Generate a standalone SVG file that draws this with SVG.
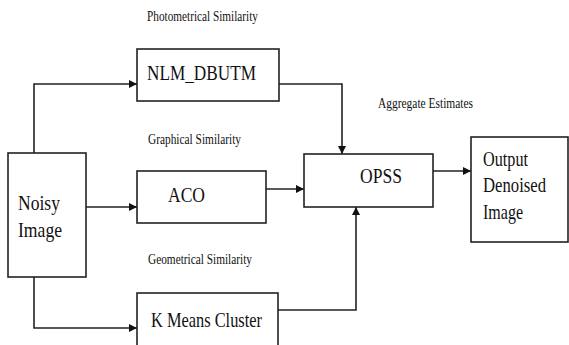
<svg xmlns="http://www.w3.org/2000/svg" width="569" height="345" viewBox="0 0 569 345">
<defs>
<style>
.box{fill:#fff;stroke:#222;stroke-width:1.6}
.con{fill:none;stroke:#222;stroke-width:1.6}
.big{font-family:'Liberation Serif','Times New Roman','DejaVu Serif',serif;font-size:22px;fill:#111}
.lab{font-family:'Liberation Serif','Times New Roman','DejaVu Serif',serif;font-size:14px;fill:#111}
</style>
<marker id="ah" viewBox="0 0 10 10" refX="10" refY="5" markerWidth="8" markerHeight="8" markerUnits="userSpaceOnUse" orient="auto">
<path d="M0,0 L10,5 L0,10 z" fill="#111"/>
</marker>
</defs>
<rect width="569" height="345" fill="#fff"/>
<g id="labels">
<text class="lab" x="147" y="21" textLength="111" lengthAdjust="spacingAndGlyphs">Photometrical Similarity</text>
<text class="lab" x="148" y="144" textLength="93" lengthAdjust="spacingAndGlyphs">Graphical Similarity</text>
<text class="lab" x="148" y="264" textLength="104" lengthAdjust="spacingAndGlyphs">Geometrical Similarity</text>
<text class="lab" x="378" y="108" textLength="95" lengthAdjust="spacingAndGlyphs">Aggregate Estimates</text>
</g>
<g id="connectors">
<path class="con" d="M34,153 V84 H137" marker-end="url(#ah)"/>
<path class="con" d="M86,207 H137" marker-end="url(#ah)"/>
<path class="con" d="M34,277 V328 H137" marker-end="url(#ah)"/>
<path class="con" d="M279,84 H342 V154" marker-end="url(#ah)"/>
<path class="con" d="M266,189 H304" marker-end="url(#ah)"/>
<path class="con" d="M278,310 H356 V207" marker-end="url(#ah)"/>
<path class="con" d="M433,171 H471" marker-end="url(#ah)"/>
</g>
<g id="noisy">
<rect class="box" x="8" y="153" width="78" height="124"/>
<text class="big" x="18" y="210" textLength="42" lengthAdjust="spacingAndGlyphs">Noisy</text>
<text class="big" x="18" y="237" textLength="44" lengthAdjust="spacingAndGlyphs">Image</text>
</g>
<g id="nlm">
<rect class="box" x="137" y="49" width="142" height="52"/>
<text class="big" x="147" y="80" font-size="24" textLength="109" lengthAdjust="spacingAndGlyphs">NLM_DBUTM</text>
</g>
<g id="aco">
<rect class="box" x="137" y="171" width="129" height="52"/>
<text class="big" x="168" y="202" textLength="37" lengthAdjust="spacingAndGlyphs">ACO</text>
</g>
<g id="kmeans">
<rect class="box" x="137" y="293" width="141" height="60"/>
<text class="big" x="151" y="327" textLength="111" lengthAdjust="spacingAndGlyphs">K Means Cluster</text>
</g>
<g id="opss">
<rect class="box" x="304" y="154" width="129" height="53"/>
<text class="big" x="360" y="183" textLength="42" lengthAdjust="spacingAndGlyphs">OPSS</text>
</g>
<g id="output">
<rect class="box" x="471" y="137" width="97" height="105"/>
<text class="big" x="483" y="166" textLength="45" lengthAdjust="spacingAndGlyphs">Output</text>
<text class="big" x="483" y="192" textLength="63" lengthAdjust="spacingAndGlyphs">Denoised</text>
<text class="big" x="483" y="219" textLength="40" lengthAdjust="spacingAndGlyphs">Image</text>
</g>
</svg>
